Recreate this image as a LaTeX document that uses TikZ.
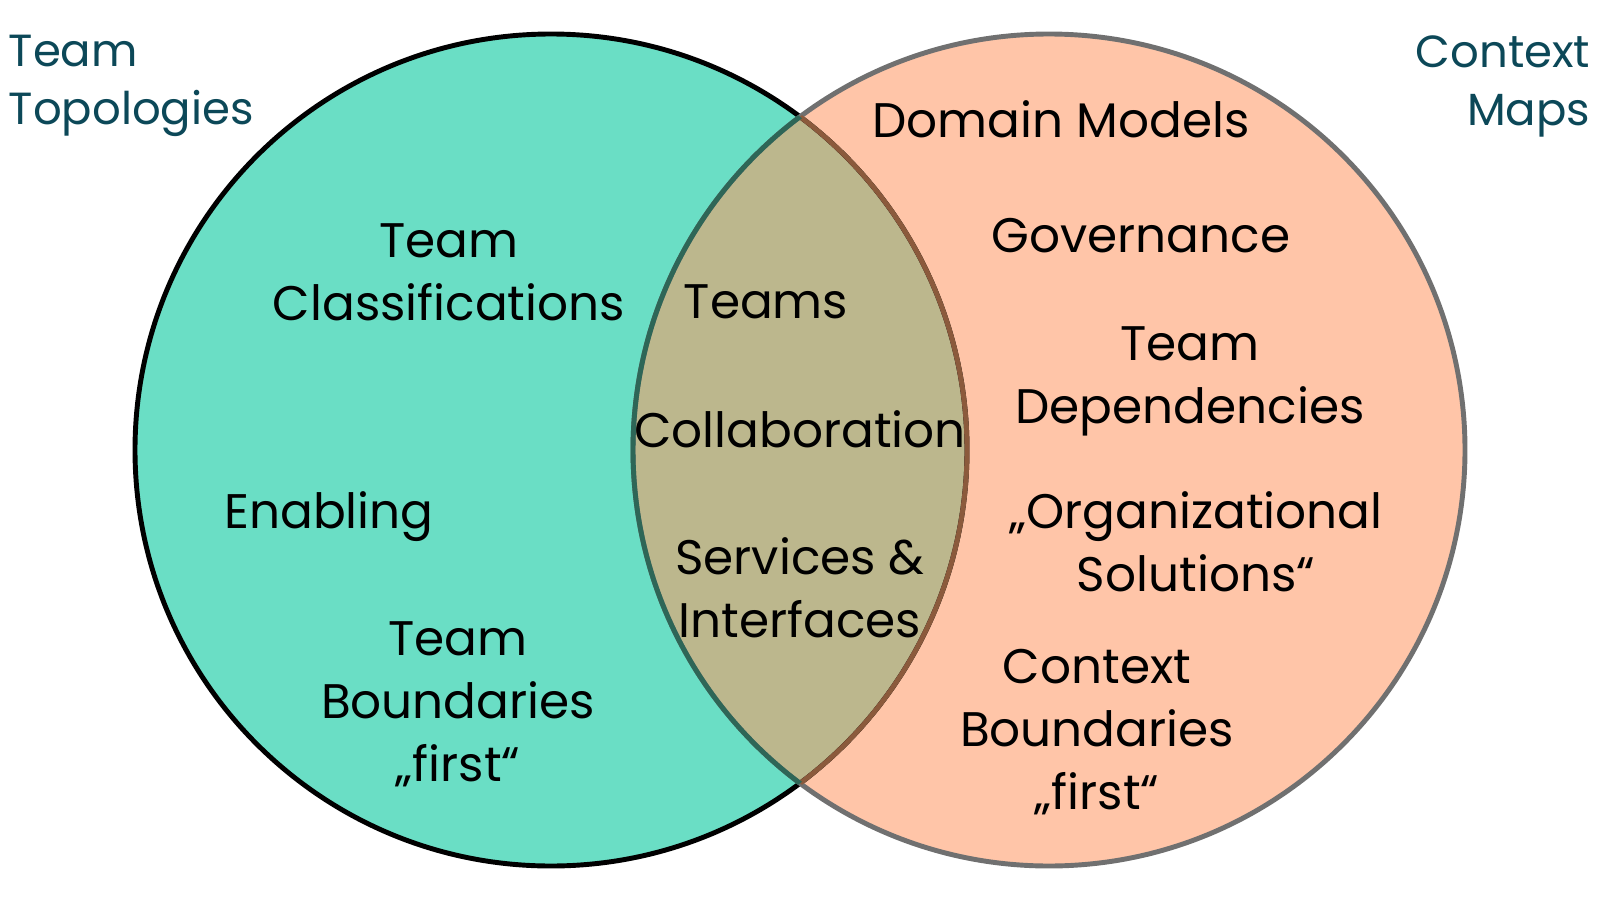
\documentclass[tikz,border=0pt]{standalone}
\usepackage{fontspec}
\setmainfont{Poppins}
\usepackage{xcolor}
\usepackage{tikz}

\definecolor{ttfill}{HTML}{6ADEC5}
\definecolor{cmfill}{HTML}{FFC5A8}
\definecolor{bothfill}{HTML}{BCB78D}
\definecolor{cmline}{HTML}{707070}
\definecolor{ttinner}{HTML}{8B5A3C}
\definecolor{cminner}{HTML}{2E6657}
\definecolor{headcol}{HTML}{0C4858}

\begin{document}
\begin{tikzpicture}[
  x=0.01cm, y=-0.01cm,
  every node/.style={align=center, inner sep=0pt},
  lbl/.style={font=\fontsize{13.8}{17.9}\selectfont, text=black},
  head/.style={font=\fontsize{12.8}{16.5}\selectfont, text=headcol},
  ring/.style={line width=1.4pt}
]
\useasboundingbox (0,0) rectangle (1600,900);

% the two sets
\coordinate (tt) at (551,450);
\coordinate (cm) at (1049,450);
\fill[ttfill] (tt) circle (416);
\fill[cmfill] (cm) circle (416);
\begin{scope}
  \clip (tt) circle (416);
  \fill[bothfill] (cm) circle (416);
\end{scope}
\draw[ring, black] (tt) circle (416);
\draw[ring, cmline] (cm) circle (416);
\begin{scope}
  \clip (cm) circle (416);
  \draw[ring, ttinner] (tt) circle (416);
\end{scope}
\begin{scope}
  \clip (tt) circle (416);
  \draw[ring, cminner] (cm) circle (416);
\end{scope}

% headings
\node[head, anchor=west, align=left] (tthead) at (8,86) {Team\\Topologies};
\node[head, anchor=east, align=right] (cmhead) at (1591,86) {Context\\Maps};

% team topologies only
\node[lbl] (classes) at (449,272) {Team\\Classifications};
\node[lbl] (enabling) at (329,517) {Enabling};
\node[lbl] (ttbounds) at (458,704) {Team\\Boundaries\\„first“};

% shared
\node[lbl] (teams) at (766,302) {Teams};
\node[lbl] (collab) at (800,429) {Collaboration};
\node[lbl] (services) at (800,588) {Services \&\\Interfaces};

% context maps only
\node[lbl] (domain) at (1061,119) {Domain Models};
\node[lbl] (govern) at (1141,236) {Governance};
\node[lbl] (deps) at (1190,381) {Team\\Dependencies};
\node[lbl] (orgsol) at (1196,542) {„Organizational\\Solutions“};
\node[lbl] (cmbounds) at (1097,732) {Context\\Boundaries\\„first“};
\end{tikzpicture}
\end{document}
